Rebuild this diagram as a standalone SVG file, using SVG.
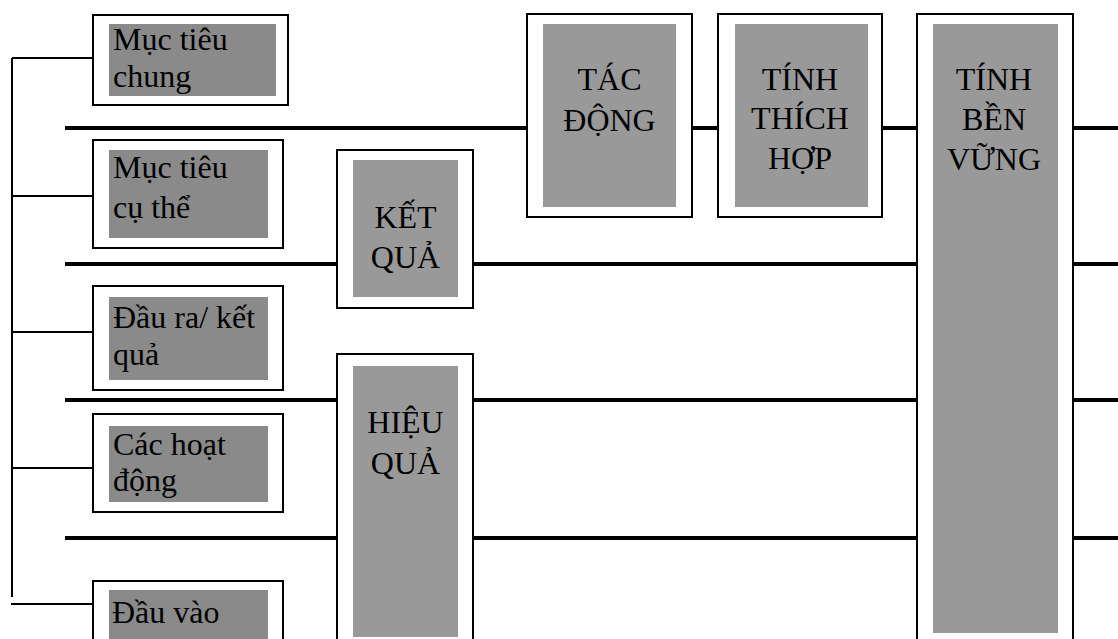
<svg xmlns="http://www.w3.org/2000/svg" width="1118" height="639" viewBox="0 0 1118 639">
<style>
.outer{fill:#ffffff;stroke:#000000;stroke-width:2}
.g1{fill:#8a8a8a}
.g2{fill:#999999}
.thick{stroke:#000000;stroke-width:4;fill:none}
.thin{stroke:#000000;stroke-width:2;fill:none}
text{font-family:"Liberation Serif","Times New Roman",serif;font-size:32px;fill:#000000}
.c{text-anchor:middle}
</style>
<rect width="1118" height="639" fill="#ffffff"/>
<g id="connectors">
<line class="thin" x1="12" y1="58" x2="12" y2="597"/>
<line class="thin" x1="12" y1="58" x2="93" y2="58"/>
<line class="thin" x1="12" y1="196" x2="93" y2="196"/>
<line class="thin" x1="12" y1="332" x2="93" y2="332"/>
<line class="thin" x1="12" y1="468" x2="93" y2="468"/>
<line class="thin" x1="11" y1="604" x2="93" y2="604"/>
<line class="thick" x1="65" y1="128" x2="527" y2="128"/>
<line class="thick" x1="692" y1="128" x2="718" y2="128"/>
<line class="thick" x1="882" y1="128" x2="917" y2="128"/>
<line class="thick" x1="1073" y1="128" x2="1118" y2="128"/>
<line class="thick" x1="65" y1="264" x2="337" y2="264"/>
<line class="thick" x1="473" y1="264" x2="917" y2="264"/>
<line class="thick" x1="1073" y1="264" x2="1118" y2="264"/>
<line class="thick" x1="65" y1="400" x2="337" y2="400"/>
<line class="thick" x1="473" y1="400" x2="917" y2="400"/>
<line class="thick" x1="1073" y1="400" x2="1118" y2="400"/>
<line class="thick" x1="65" y1="538" x2="337" y2="538"/>
<line class="thick" x1="473" y1="538" x2="917" y2="538"/>
<line class="thick" x1="1073" y1="538" x2="1118" y2="538"/>
</g>
<g id="muc-tieu-chung">
<rect class="outer" x="93" y="15" width="195" height="90"/>
<rect class="g1" x="109" y="24" width="167" height="72"/>
<text x="113" y="50">Mục tiêu</text>
<text x="113" y="87">chung</text>
</g>
<g id="muc-tieu-cu-the">
<rect class="outer" x="93" y="140" width="190" height="108"/>
<rect class="g1" x="109" y="150" width="159" height="88"/>
<text x="113" y="178">Mục tiêu</text>
<text x="113" y="218">cụ thể</text>
</g>
<g id="dau-ra">
<rect class="outer" x="93" y="286" width="190" height="104"/>
<rect class="g1" x="109" y="297" width="159" height="83"/>
<text x="113" y="328">Đầu ra/ kết</text>
<text x="113" y="365">quả</text>
</g>
<g id="cac-hoat-dong">
<rect class="outer" x="93" y="414" width="190" height="98"/>
<rect class="g1" x="109" y="426" width="159" height="76"/>
<text x="113" y="455">Các hoạt</text>
<text x="113" y="491">động</text>
</g>
<g id="dau-vao">
<rect class="outer" x="93" y="581" width="190" height="80"/>
<rect class="g1" x="109" y="590" width="159" height="60"/>
<text x="112" y="623">Đầu vào</text>
</g>
<g id="ket-qua">
<rect class="outer" x="337" y="150" width="136" height="158"/>
<rect class="g2" x="353" y="160" width="105" height="137"/>
<text class="c" x="405.5" y="228">KẾT</text>
<text class="c" x="405.5" y="268">QUẢ</text>
</g>
<g id="hieu-qua">
<rect class="outer" x="337" y="354" width="136" height="300"/>
<rect class="g2" x="353" y="366" width="105" height="271"/>
<text class="c" x="405.5" y="433">HIỆU</text>
<text class="c" x="405.5" y="474">QUẢ</text>
</g>
<g id="tac-dong">
<rect class="outer" x="527" y="14" width="165" height="203"/>
<rect class="g2" x="543" y="24" width="133" height="183"/>
<text class="c" x="609.5" y="90">TÁC</text>
<text class="c" x="609.5" y="131">ĐỘNG</text>
</g>
<g id="tinh-thich-hop">
<rect class="outer" x="718" y="14" width="164" height="203"/>
<rect class="g2" x="735" y="24" width="133" height="183"/>
<text class="c" x="800" y="90">TÍNH</text>
<text class="c" x="800" y="129">THÍCH</text>
<text class="c" x="800" y="169">HỢP</text>
</g>
<g id="tinh-ben-vung">
<rect class="outer" x="917" y="14" width="156" height="650"/>
<rect class="g2" x="933" y="24" width="125" height="609"/>
<text class="c" x="994" y="90">TÍNH</text>
<text class="c" x="994" y="130">BỀN</text>
<text class="c" x="994" y="170">VỮNG</text>
</g>
</svg>
